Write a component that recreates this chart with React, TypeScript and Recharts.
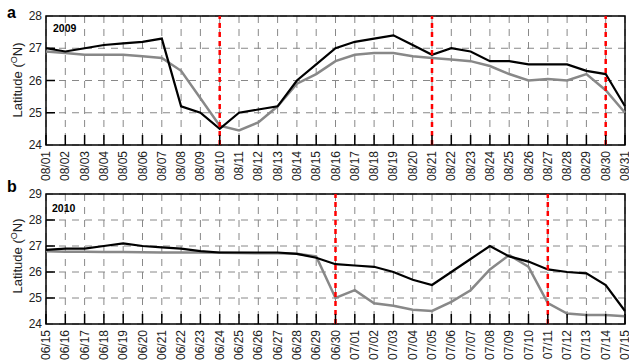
import { LineChart, Line, XAxis, YAxis, CartesianGrid, ReferenceLine, ReferenceArea } from 'recharts'

const datesA = ['08/01', '08/02', '08/03', '08/04', '08/05', '08/06', '08/07', '08/08', '08/09', '08/10', '08/11', '08/12', '08/13', '08/14', '08/15', '08/16', '08/17', '08/18', '08/19', '08/20', '08/21', '08/22', '08/23', '08/24', '08/25', '08/26', '08/27', '08/28', '08/29', '08/30', '08/31']
const blackA = [27.0, 26.9, 27.0, 27.1, 27.15, 27.2, 27.3, 25.2, 25.0, 24.5, 25.0, 25.1, 25.2, 26.0, 26.5, 27.0, 27.2, 27.3, 27.4, 27.1, 26.8, 27.0, 26.9, 26.6, 26.6, 26.5, 26.5, 26.5, 26.3, 26.2, 25.2]
const grayA = [26.9, 26.85, 26.8, 26.8, 26.8, 26.75, 26.7, 26.3, 25.45, 24.6, 24.45, 24.7, 25.2, 25.9, 26.2, 26.6, 26.8, 26.85, 26.85, 26.75, 26.7, 26.65, 26.6, 26.45, 26.2, 26.0, 26.05, 26.0, 26.2, 25.7, 25.0]
const redA = ['08/10', '08/21', '08/30']

const datesB = ['06/15', '06/16', '06/17', '06/18', '06/19', '06/20', '06/21', '06/22', '06/23', '06/24', '06/25', '06/26', '06/27', '06/28', '06/29', '06/30', '07/01', '07/02', '07/03', '07/04', '07/05', '07/06', '07/07', '07/08', '07/09', '07/10', '07/11', '07/12', '07/13', '07/14', '07/15']
const blackB = [26.85, 26.9, 26.9, 27.0, 27.1, 27.0, 26.95, 26.9, 26.8, 26.75, 26.75, 26.75, 26.75, 26.7, 26.55, 26.3, 26.25, 26.2, 26.0, 25.7, 25.5, 26.0, 26.5, 27.0, 26.6, 26.4, 26.1, 26.0, 25.95, 25.5, 24.5]
const grayB = [26.8, 26.78, 26.78, 26.77, 26.77, 26.76, 26.75, 26.75, 26.75, 26.74, 26.73, 26.72, 26.72, 26.7, 26.6, 25.0, 25.3, 24.8, 24.7, 24.55, 24.5, 24.85, 25.3, 26.1, 26.65, 26.2, 24.8, 24.4, 24.35, 24.35, 24.3]
const redB = ['06/30', '07/11']

const ticksA = [24, 25, 26, 27, 28]
const ticksB = [24, 25, 26, 27, 28, 29]

const FONT = '"Liberation Sans", Arial, sans-serif'

const XTick = ({ x, y, payload }: any) => (
  <g>
    <line x1={x} x2={x} y1={y - 5} y2={y - 15} stroke="#000" strokeWidth={1.5} />
    <text transform={`translate(${x + 4},${y + 1}) rotate(-90)`} textAnchor="end" fontSize={12} fill="#222" fontFamily={FONT}>
      {payload.value}
    </text>
  </g>
)

const makeYTick = (lo: number, hi: number) => ({ x, y, payload }: any) => (
  <g>
    {payload.value > lo && payload.value < hi && (
      <line x1={x + 4} x2={x + 13} y1={y} y2={y} stroke="#000" strokeWidth={1.5} />
    )}
    <text x={x} y={y} dy={4} textAnchor="end" fontSize={12} fill="#222" fontFamily={FONT}>
      {payload.value}
    </text>
  </g>
)

function Panel({ dates, black, gray, red, ticks, height, xh }: any) {
  const data = dates.map((d: string, i: number) => ({ d, black: black[i], gray: gray[i] }))
  const lo = ticks[0]
  const hi = ticks[ticks.length - 1]
  return (
    <LineChart width={629} height={height} data={data} margin={{ top: 16, right: 4, left: 0, bottom: 0 }}>
      <CartesianGrid stroke="#888" strokeDasharray="7 6" />
      <XAxis dataKey="d" interval={0} height={xh} tickSize={0} tickMargin={5} axisLine={false} tick={<XTick />} />
      <YAxis
        domain={[lo, hi]}
        ticks={ticks}
        width={46}
        tickSize={0}
        tickMargin={4}
        axisLine={false}
        tick={makeYTick(lo, hi)}
      />
      <Line dataKey="gray" stroke="#888" strokeWidth={2.5} dot={false} isAnimationActive={false} />
      <Line dataKey="black" stroke="#000" strokeWidth={2.2} dot={false} isAnimationActive={false} />
      {red.map((r: string) => (
        <ReferenceLine key={r} x={r} stroke="#f00" strokeWidth={2.5} strokeDasharray="5 4" />
      ))}
      <ReferenceArea x1={dates[0]} x2={dates[dates.length - 1]} y1={lo} y2={hi} fill="none" stroke="#000" strokeWidth={1.5} fillOpacity={0} />
    </LineChart>
  )
}

export default function App() {
  return (
    <div style={{ position: 'absolute', left: 0, top: 0, width: 629, height: 363, background: '#fff', overflow: 'hidden' }}>
      <div style={{ position: 'absolute', left: 0, top: 0 }}>
        <Panel dates={datesA} black={blackA} gray={grayA} red={redA} ticks={ticksA} height={190} xh={45} />
      </div>
      <div style={{ position: 'absolute', left: 0, top: 178 }}>
        <Panel dates={datesB} black={blackB} gray={grayB} red={redB} ticks={ticksB} height={185} xh={39} />
      </div>
      <svg width={629} height={363} style={{ position: 'absolute', left: 0, top: 0, pointerEvents: 'none' }} fontFamily={FONT}>
        <text x={7} y={18} fontSize={16} fontWeight="bold">a</text>
        <text x={7} y={192} fontSize={16} fontWeight="bold">b</text>
        <text x={53} y={32} fontSize={10.5} fontWeight="bold">2009</text>
        <text x={52} y={212} fontSize={10.5} fontWeight="bold">2010</text>
        <text transform="translate(22,80) rotate(-90)" textAnchor="middle" fontSize={13} fill="#222">
          Latitude (<tspan fontSize={9} dy={-5}>O</tspan><tspan dy={5}>N)</tspan>
        </text>
        <text transform="translate(22,256) rotate(-90)" textAnchor="middle" fontSize={13} fill="#222">
          Latitude (<tspan fontSize={9} dy={-5}>O</tspan><tspan dy={5}>N)</tspan>
        </text>
      </svg>
    </div>
  )
}
